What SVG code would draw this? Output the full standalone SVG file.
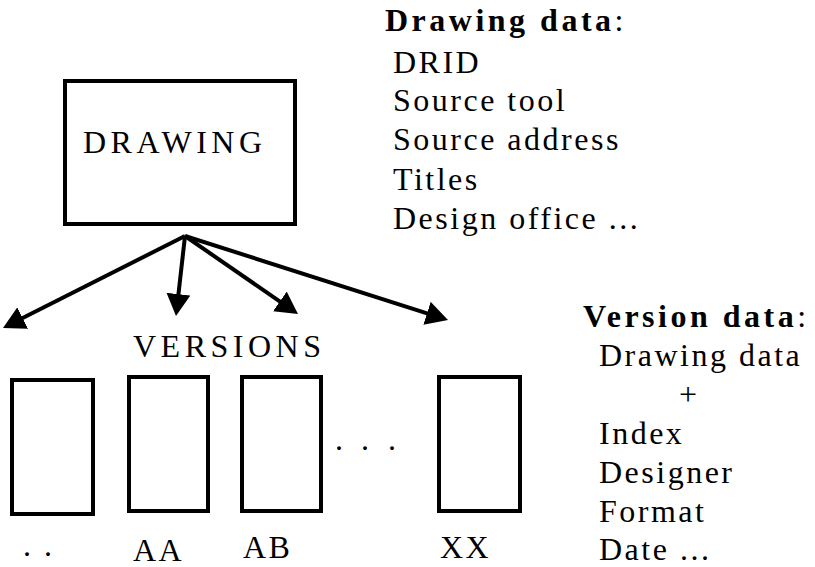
<svg xmlns="http://www.w3.org/2000/svg" width="815" height="567" viewBox="0 0 815 567">
  <style>
    .box { fill: none; stroke: #000; stroke-width: 4; }
    .conn { stroke: #000; stroke-width: 4; fill: none; }
    .t { font-family: "Liberation Serif", "Times New Roman", serif; font-size: 32px; fill: #000; letter-spacing: 2.5px; }
    .b { font-weight: bold; letter-spacing: 3.5px; }
    .wide { letter-spacing: 4.5px; }
  </style>
  <defs>
    <marker id="head" markerUnits="userSpaceOnUse" markerWidth="22" markerHeight="24" refX="5" refY="12" orient="auto">
      <path d="M0,0 L22,12 L0,24 z" fill="#000"/>
    </marker>
  </defs>

  <!-- Drawing node -->
  <g id="drawing">
    <rect class="box" x="65" y="81" width="230" height="143"/>
    <text class="t wide" x="83" y="153">DRAWING</text>
  </g>

  <!-- Fan-out from the drawing to its versions -->
  <g id="connectors">
    <line class="conn" x1="185" y1="236" x2="18.2" y2="320.3" marker-end="url(#head)"/>
    <line class="conn" x1="185" y1="236" x2="177.9" y2="299.1" marker-end="url(#head)"/>
    <line class="conn" x1="185" y1="236" x2="284" y2="304.3" marker-end="url(#head)"/>
    <line class="conn" x1="185" y1="236" x2="431.8" y2="314.8" marker-end="url(#head)"/>
  </g>

  <text id="versions-label" class="t wide" x="133" y="357">VERSIONS</text>

  <!-- Version nodes -->
  <g id="version-prev">
    <rect class="box" x="12" y="380" width="81" height="134"/>
    <text class="t" x="23" y="556">. .</text>
  </g>
  <g id="version-aa">
    <rect class="box" x="129" y="377" width="79" height="134"/>
    <text class="t" x="133" y="561">AA</text>
  </g>
  <g id="version-ab">
    <rect class="box" x="242" y="377" width="79" height="134"/>
    <text class="t" x="243" y="558">AB</text>
  </g>
  <g id="ellipsis">
    <text class="t" x="335" y="450">.</text>
    <text class="t" x="361" y="450">.</text>
    <text class="t" x="388" y="450">.</text>
  </g>
  <g id="version-xx">
    <rect class="box" x="439" y="377" width="81" height="134"/>
    <text class="t" x="440" y="558">XX</text>
  </g>

  <!-- Drawing attributes -->
  <g id="drawing-data">
    <text class="t"><tspan class="b" x="385" y="31">Drawing data</tspan><tspan>:</tspan></text>
    <text class="t" x="393" y="73">DRID</text>
    <text class="t" x="393" y="111">Source tool</text>
    <text class="t" x="393" y="150">Source address</text>
    <text class="t" x="393" y="190">Titles</text>
    <text class="t" x="393" y="229">Design office ...</text>
  </g>

  <!-- Version attributes -->
  <g id="version-data">
    <text class="t"><tspan class="b" x="583" y="327">Version  data</tspan><tspan>:</tspan></text>
    <text class="t" x="599" y="366">Drawing data</text>
    <text class="t" x="679" y="405">+</text>
    <text class="t" x="599" y="444">Index</text>
    <text class="t" x="599" y="483">Designer</text>
    <text class="t" x="599" y="522">Format</text>
    <text class="t" x="599" y="560">Date ...</text>
  </g>
</svg>
